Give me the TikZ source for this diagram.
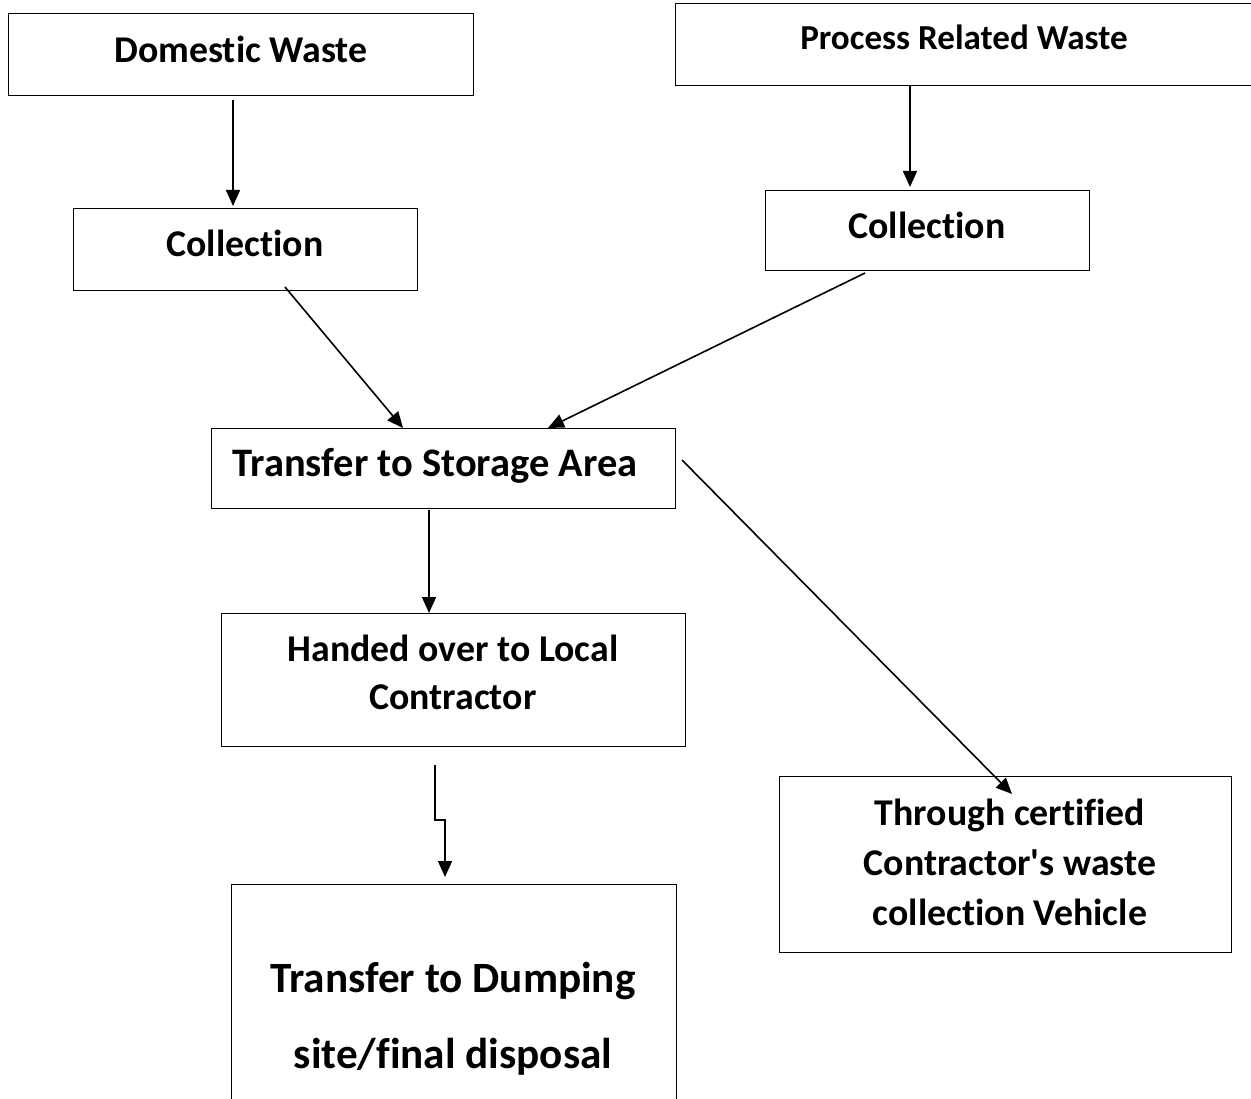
\documentclass[tikz,border=0pt]{standalone}
\usepackage{fontspec}
\setmainfont{Carlito}[Ligatures=NoCommon]
\newfontfamily\cfont{Carlito}[Ligatures=NoCommon]
\usetikzlibrary{arrows.meta}
\begin{document}
\begin{tikzpicture}[x=1pt,y=-1pt,
  box/.style={draw,line width=1.4pt,inner sep=0pt,anchor=north west},
  lbl/.style={align=center,inner sep=0pt},
  conn/.style={line width=1.6pt,-{Triangle[length=16pt,width=14pt]}}]
\useasboundingbox (0,0) rectangle (1251,1099);
\clip (0,0) rectangle (1251,1099);
% boxes
\node[box,minimum width=465pt,minimum height=82pt] (dw) at (8,13) {};
\node[box,minimum width=600pt,minimum height=82pt] (pw) at (675,3) {};
\node[box,minimum width=344pt,minimum height=82pt] (c1) at (73,208) {};
\node[box,minimum width=324pt,minimum height=80pt] (c2) at (765,190) {};
\node[box,minimum width=464pt,minimum height=80pt] (st) at (211,428) {};
\node[box,minimum width=464pt,minimum height=133pt] (ho) at (221,613) {};
\node[box,minimum width=452pt,minimum height=176pt] (tc) at (779,776) {};
\node[box,minimum width=445pt,minimum height=240pt] (td) at (231,884) {};
% texts
\node[lbl,font=\cfont\bfseries\fontsize{37.8}{44}\selectfont] (tdw) at (241,49) {Domestic Waste};
\node[lbl,font=\cfont\bfseries\fontsize{35.1}{42}\selectfont] (tpw) at (964,37) {Process Related Waste};
\node[lbl,font=\cfont\bfseries\fontsize{37.8}{44}\selectfont] (tc1) at (245,243) {Collection};
\node[lbl,font=\cfont\bfseries\fontsize{37.8}{44}\selectfont] (tc2) at (927,225) {Collection};
\node[lbl,font=\cfont\bfseries\fontsize{40.5}{48}\selectfont] (tst) at (435,466) {Transfer to Storage Area};
\node[lbl,font=\cfont\bfseries\fontsize{37.8}{48}\selectfont] (tho) at (453,672) {Handed over to Local\\Contractor};
\node[lbl,font=\cfont\bfseries\fontsize{37.8}{50}\selectfont] (ttc) at (1010,862) {Through certified\\Contractor's waste\\collection Vehicle};
\node[lbl,font=\cfont\bfseries\fontsize{43.2}{76}\selectfont] (ttd) at (453,1019) {Transfer to Dumping\\site/final disposal};
% connector end points
\coordinate (a1) at (233,100);
\coordinate (b1) at (233,206);
\coordinate (a2) at (910,86);
\coordinate (b2) at (910,187);
\coordinate (a3) at (285,287);
\coordinate (b3) at (403,428);
\coordinate (a4) at (865,273);
\coordinate (b4) at (548,428);
\coordinate (a5) at (429,510);
\coordinate (b5) at (429,613);
\coordinate (a6) at (682,460);
\coordinate (b6) at (1012,794);
\coordinate (a7) at (435,765);
\coordinate (k1) at (435,820);
\coordinate (k2) at (445,820);
\coordinate (b7) at (445,877);
\draw[conn] (a1) -- (b1);
\draw[conn] (a2) -- (b2);
\draw[conn] (a3) -- (b3);
\draw[conn] (a4) -- (b4);
\draw[conn] (a5) -- (b5);
\draw[conn] (a6) -- (b6);
\draw[conn] (a7) -- (k1) -- (k2) -- (b7);
\end{tikzpicture}
\end{document}
